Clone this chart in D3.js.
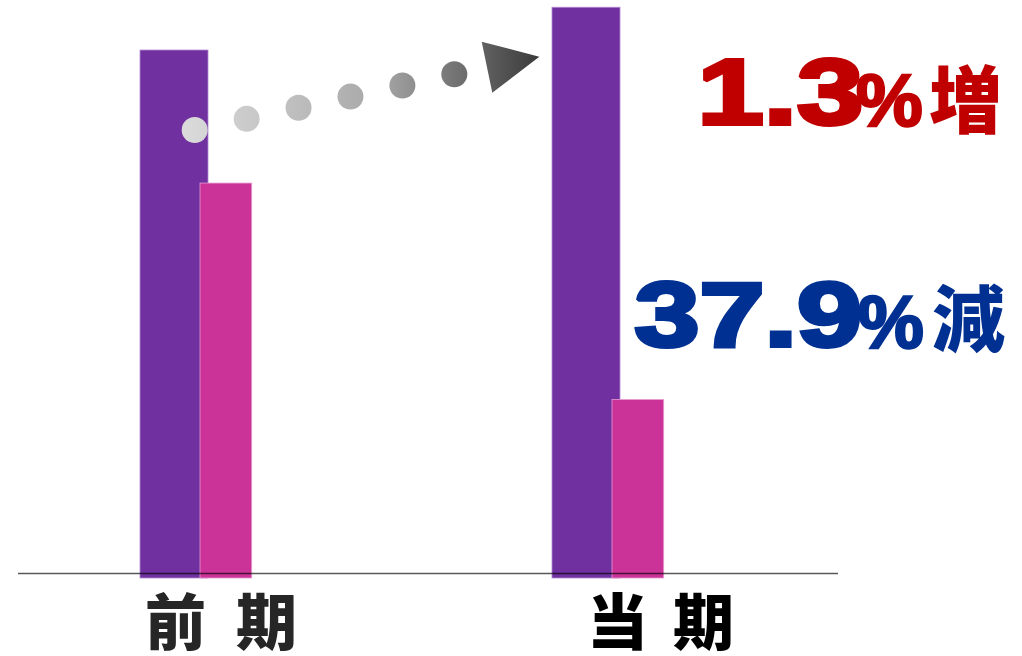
<!DOCTYPE html>
<html><head><meta charset="utf-8">
<script src="https://cdn.jsdelivr.net/npm/d3@7"></script>
<style>html,body{margin:0;padding:0;background:#fff;}svg{display:block;}</style>
</head><body>
<svg id="chart" width="1022" height="656"></svg>
<script>
// ---- data ----
const categories = ["前期", "当期"];
const labels = ["前 期", "当 期"];
const seriesA = [100, 108.1];   // purple bars (index)
const seriesB = [74.8, 33.8];   // pink bars (index)
const dotsCount = 6;
const changeTexts = [
  {num: "1.3", pct: "%", kanji: "増", color: "#C00000"},
  {num: "37.9", pct: "%", kanji: "減", color: "#003092"}
];

const svg = d3.select("#chart");
const x = d3.scalePoint().domain(categories).range([140, 552]);
const y = d3.scaleLinear().domain([0, 109.47]).range([578, 0]);

const purpleW = 68, pinkOff = 60, pinkW = 51.7;

// bars
svg.selectAll("rect.a").data(categories).join("rect")
  .attr("x", d => x(d)).attr("width", purpleW)
  .attr("y", (d,i) => y(seriesA[i])).attr("height", (d,i) => y(0) - y(seriesA[i]))
  .attr("fill", "#7030A0").attr("stroke", "#b58ad0").attr("stroke-width", 0.8);
svg.selectAll("rect.b").data(categories).join("rect")
  .attr("x", d => x(d) + pinkOff).attr("width", pinkW)
  .attr("y", (d,i) => y(seriesB[i])).attr("height", (d,i) => y(0) - y(seriesB[i]))
  .attr("fill", "#CC3399").attr("stroke", "#e79ad0").attr("stroke-width", 0.8);

// baseline
svg.append("line").attr("x1", 18).attr("x2", 838).attr("y1", 573.5).attr("y2", 573.5)
  .attr("stroke", "#000").attr("stroke-opacity", 0.65).attr("stroke-width", 1.3);

// category labels
const labelX = [145, 587];
const labelLS = [8, 5.5];
const labelColor = ["#262626", "#000"];
svg.selectAll("text.cat").data(labels).join("text")
  .attr("x", (d,i) => labelX[i]).attr("y", 645)
  .attr("font-family", "'Noto Sans CJK JP'").attr("font-weight", 900)
  .attr("font-size", 61).attr("fill", (d,i) => labelColor[i])
  .attr("xml:space", "preserve").attr("letter-spacing", (d,i) => labelLS[i])
  .text(d => d);

// dotted arrow with gradient
const defs = svg.append("defs");
const grad = defs.append("linearGradient").attr("id", "g").attr("gradientUnits", "userSpaceOnUse")
  .attr("x1", 180).attr("y1", 0).attr("x2", 540).attr("y2", 0);
grad.append("stop").attr("offset", 0).attr("stop-color", "#dcdcdc");
grad.append("stop").attr("offset", 0.55).attr("stop-color", "#a8a8a8");
grad.append("stop").attr("offset", 1).attr("stop-color", "#3a3a3a");
const startPt = [194.7, 130], endPt = [454.3, 74.3];
const dots = d3.range(dotsCount).map(i => [
  startPt[0] + (endPt[0]-startPt[0]) * i/(dotsCount-1),
  startPt[1] + (endPt[1]-startPt[1]) * i/(dotsCount-1)]);
svg.selectAll("circle.dot").data(dots).join("circle")
  .attr("cx", d => d[0]).attr("cy", d => d[1]).attr("r", 13).attr("fill", "url(#g)");
svg.append("path").attr("d", "M481.7,41.7 L539.3,56.7 L492.3,92.7 Z").attr("fill", "url(#g)");

// change texts
const numLayout = [
  {x: 697.5, y: 124, len: 165.7, fs: 93.5, px: 856, py: 126, pfs: 75, kx: 929, ky: 127, kfs: 73},
  {x: 634.5, y: 345.5, len: 227.6, fs: 90, px: 858, py: 347.5, pfs: 74, kx: 932, ky: 346, kfs: 73}
];
changeTexts.forEach((t, i) => {
  const L = numLayout[i];
  svg.append("text").attr("x", L.x).attr("y", L.y)
    .attr("font-family", "'Liberation Sans', Arial, sans-serif").attr("font-weight", 700)
    .attr("font-size", L.fs).attr("fill", t.color)
    .attr("stroke", t.color).attr("stroke-width", 4).attr("stroke-linejoin", "miter").attr("stroke-miterlimit", 1.5)
    .attr("textLength", L.len).attr("lengthAdjust", "spacingAndGlyphs").text(t.num);
  svg.append("text").attr("x", L.px).attr("y", L.py)
    .attr("font-family", "'Liberation Sans', Arial, sans-serif").attr("font-weight", 700)
    .attr("font-size", L.pfs).attr("fill", t.color)
    .attr("stroke", t.color).attr("stroke-width", 2.5).text(t.pct);
  svg.append("text").attr("x", L.kx).attr("y", L.ky)
    .attr("font-family", "'Noto Sans CJK JP'").attr("font-weight", 900)
    .attr("font-size", L.kfs).attr("fill", t.color).text(t.kanji);
});
</script>
</body></html>
